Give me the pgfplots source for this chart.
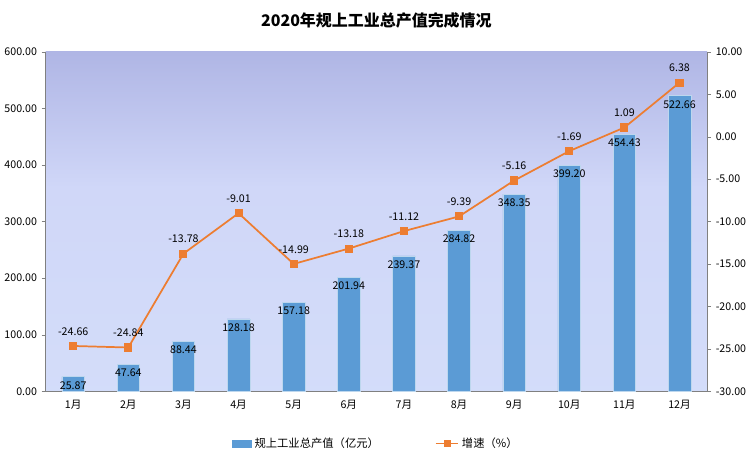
\documentclass[border=0pt]{standalone}
\usepackage{fontspec}
\setmainfont{Noto Sans CJK SC}
\usepackage{pgfplots}
\pgfplotsset{compat=1.18}
\definecolor{barc}{RGB}{91,155,213}
\definecolor{linec}{RGB}{237,125,49}
\definecolor{bgA}{RGB}{150,168,140}
\definecolor{bgB}{RGB}{190,200,200}
\definecolor{bgC}{RGB}{212,222,250}
\definecolor{bgD}{RGB}{208,215,248}
\definecolor{bgE}{RGB}{135,140,205}
\pgfdeclareverticalshading{bg}{100bp}{
 color(0bp)=(bgA);
 color(6bp)=(bgB);
 color(18bp)=(bgC);
 color(55bp)=(bgD);
 color(100bp)=(bgE)}
\begin{document}
\begin{tikzpicture}[x=1pt,y=1pt]
\fill[white] (-32,-48) rectangle (533,294);
\pgfplotsset{every axis/.style={width=497pt,height=255pt,scale only axis,
 xmin=-0.5,xmax=11.5, font=\fontsize{8}{9}\selectfont,
 /pgf/number format/assume math mode=true,
 y tick label style={/pgf/number format/.cd,fixed,fixed zerofill,precision=2},
 tick style={draw=gray}, axis line style={draw=gray}}}
\begin{axis}[at={(0,0)},anchor=south west,
 axis background/.style={shading=bg},
 axis x line*=bottom, axis y line*=left,
 ymin=0,ymax=600,ytick={0,100,...,600},
 xtick={0,...,11},xticklabels={1月,2月,3月,4月,5月,6月,7月,8月,9月,10月,11月,12月},
 x tick style={draw=none},
 extra x ticks={-0.5,0.5,...,11.5}, extra x tick labels={},
 extra x tick style={major tick length=5pt,tick style={draw=gray},tick align=outside},
 ytick align=outside, major tick length=3pt,
 ybar, bar width=17pt,
 nodes near coords, nodes near coords align={below},
 every node near coord/.append style={font=\fontsize{8}{9}\selectfont,color=black,anchor=north,yshift=0pt,
 /pgf/number format/.cd,fixed,fixed zerofill,precision=2},
 title={\bfseries\fontsize{12}{14}\selectfont 2020年规上工业总产值完成情况},
 title style={yshift=8pt}]
\addplot[fill=barc,draw=barc!40!white] coordinates {(0,25.87)(1,47.64)(2,88.44)(3,128.18)(4,157.18)(5,201.94)(6,239.37)(7,284.82)(8,348.35)(9,399.20)(10,454.43)(11,522.66)};
\end{axis}
\begin{axis}[at={(0,0)},anchor=south west,
 axis x line=none, axis y line*=right,
 ymin=-30,ymax=10,ytick={-30,-25,...,10},
 ytick align=outside, major tick length=3pt,
 legend style={at={(0.5,-0.12)},anchor=north,draw=none,fill=none,legend columns=2,
  font=\fontsize{8.5}{10}\selectfont,/tikz/every even column/.append style={column sep=40pt}},
 legend image code/.code={}]
\addlegendimage{area legend,fill=barc,draw=barc!40!white,legend image code/.code={\fill[barc] (0cm,-0.1cm) rectangle (0.5cm,0.08cm);}}
\addlegendentry{规上工业总产值（亿元）}
\addplot[linec,line width=1.3pt,mark=square*,mark size=2.4pt,
 nodes near coords, every node near coord/.append style={font=\fontsize{8}{9}\selectfont,color=black,anchor=south,yshift=4pt,
 /pgf/number format/.cd,fixed,fixed zerofill,precision=2},
 legend image code/.code={\draw[linec,line width=1.3pt] (0cm,0cm) -- (0.6cm,0cm); \fill[linec] (0.3cm,0cm) +(-2pt,-2pt) rectangle +(2pt,2pt);}]
 coordinates {(0,-24.66)(1,-24.84)(2,-13.78)(3,-9.01)(4,-14.99)(5,-13.18)(6,-11.12)(7,-9.39)(8,-5.16)(9,-1.69)(10,1.09)(11,6.38)};
\addlegendentry{增速（\%）}
\end{axis}
\end{tikzpicture}
\end{document}
